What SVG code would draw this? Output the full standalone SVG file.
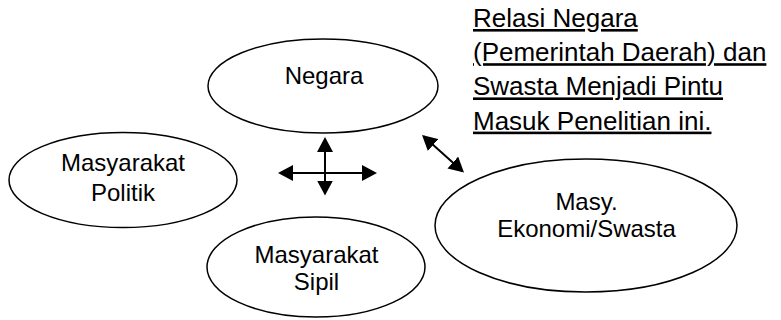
<svg xmlns="http://www.w3.org/2000/svg" width="781" height="320" viewBox="0 0 781 320">
  <style>
    .node { fill: #ffffff; stroke: #000000; stroke-width: 1.5; }
    .label { font-family: "Liberation Sans", Arial, sans-serif; font-size: 24px; fill: #000000; text-anchor: middle; }
    .note { font-family: "Liberation Sans", Arial, sans-serif; font-size: 26px; fill: #000000; text-decoration: underline; }
    .link { stroke: #000000; stroke-width: 2; fill: none; marker-start: url(#head); marker-end: url(#head); }
  </style>
  <defs>
    <marker id="head" viewBox="0 0 15 16" refX="13" refY="8" markerWidth="15" markerHeight="16" markerUnits="userSpaceOnUse" orient="auto-start-reverse">
      <path d="M0,0 L15,8 L0,16 z" fill="#000000"/>
    </marker>
  </defs>

  <rect width="781" height="320" fill="#ffffff"/>

  <g id="negara">
    <ellipse class="node" cx="323" cy="86" rx="115" ry="47"/>
    <text class="label" x="324" y="84">Negara</text>
  </g>

  <g id="masyarakat-politik">
    <ellipse class="node" cx="123" cy="180" rx="114" ry="47.5"/>
    <text class="label" x="123" y="171">Masyarakat</text>
    <text class="label" x="123" y="201">Politik</text>
  </g>

  <g id="masyarakat-sipil">
    <ellipse class="node" cx="316" cy="267" rx="109" ry="50"/>
    <text class="label" x="316.5" y="263">Masyarakat</text>
    <text class="label" x="316.5" y="290">Sipil</text>
  </g>

  <g id="masy-ekonomi">
    <ellipse class="node" cx="586" cy="225.5" rx="151" ry="66.5"/>
    <text class="label" x="586.5" y="210">Masy.</text>
    <text class="label" x="586.5" y="237">Ekonomi/Swasta</text>
  </g>

  <g id="connectors">
    <line class="link" x1="280" y1="173" x2="375" y2="173"/>
    <line class="link" x1="325" y1="139" x2="325" y2="193.5"/>
    <line class="link" x1="423.5" y1="136.3" x2="462.5" y2="171.2"/>
  </g>

  <g id="keterangan">
    <text class="note" x="473" y="27">Relasi Negara</text>
    <text class="note" x="473" y="61.2">(Pemerintah Daerah) dan</text>
    <text class="note" x="473" y="95.4">Swasta Menjadi Pintu</text>
    <text class="note" x="473" y="129.6">Masuk Penelitian ini.</text>
  </g>
</svg>
